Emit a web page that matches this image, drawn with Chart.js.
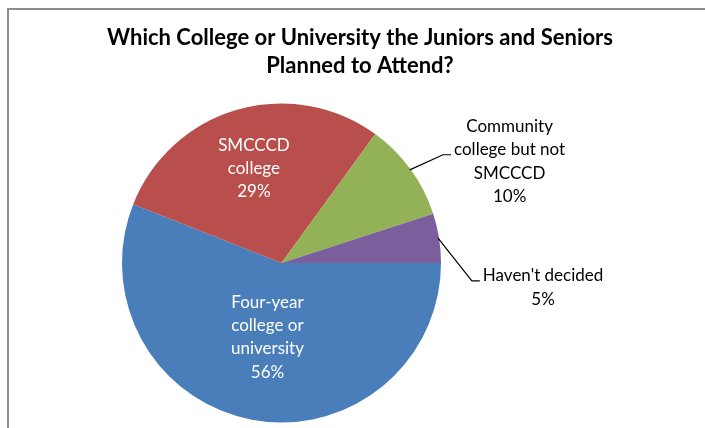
<!DOCTYPE html>
<html>
<head>
<meta charset="utf-8">
<title>College plans</title>
<script src="https://cdn.jsdelivr.net/npm/chart.js@4/dist/chart.umd.min.js"></script>
<style>
  html, body { margin: 0; padding: 0; background: #fff; }
  #plans { display: block; }
</style>
</head>
<body>
<canvas id="plans" width="705" height="428"></canvas>
<script>
// Survey answers, in drawing order (clockwise from 3 o'clock)
const categories = ['Four-year college or university', 'SMCCCD college', 'Community college but not SMCCCD', "Haven't decided"];
const shares = [56, 29, 10, 5];
// How each category name is broken over lines in its label
const labelLines = [
  ['Four-year', 'college or', 'university'],
  ['SMCCCD', 'college'],
  ['Community', 'college but not', 'SMCCCD'],
  ["Haven't decided"]
];
const titleLines = ['Which College or University the Juniors and Seniors', 'Planned to Attend?'];

const sliceColors = ['#4a7ebb', '#b84f4c', '#93b257', '#7b5e9c'];
const FONT = 'Lato, "Open Sans", sans-serif';

// where each label sits: inside = fraction of radius along mid angle,
// outside = text centre in radius units from the pie centre + leader row
const labelPlacement = [
  { inside: true, f: 0.47 },
  { inside: true, f: 0.62 },
  { inside: false, dx: 1.43, dy: -0.64, row: 1 },
  { inside: false, dx: 1.64, dy: 0.15, row: 0 }
];

const lineH = 23.3;
const capHalf = 6; // half the cap height of the 17px label font

const decorations = {
  id: 'decorations',
  afterDraw(chart) {
    const ctx = chart.ctx;
    ctx.save();

    // chart frame (runs off the right and bottom edges)
    ctx.strokeStyle = '#8c8c8c';
    ctx.lineWidth = 2;
    ctx.strokeRect(8, 9, 800, 500);

    // title
    ctx.fillStyle = '#000';
    ctx.font = 'bold 22px ' + FONT;
    ctx.textAlign = 'center';
    ctx.textBaseline = 'alphabetic';
    ctx.fillText(titleLines[0], 360, 45);
    ctx.fillText(titleLines[1], 360, 73);

    // slice labels
    ctx.font = '17px ' + FONT;
    const meta = chart.getDatasetMeta(0);
    meta.data.forEach((arc, i) => {
      const p = arc.getProps(['x', 'y', 'startAngle', 'endAngle', 'outerRadius'], true);
      const mid = (p.startAngle + p.endAngle) / 2;
      const r = p.outerRadius;
      const lines = labelLines[i].concat([shares[i] + '%']);
      const place = labelPlacement[i];
      let cx, cy;
      if (place.inside) {
        cx = p.x + Math.cos(mid) * r * place.f;
        cy = p.y + Math.sin(mid) * r * place.f;
        ctx.fillStyle = '#fff';
      } else {
        cx = p.x + place.dx * r;
        cy = p.y + place.dy * r;
        ctx.fillStyle = '#000';
      }
      const firstBase = cy - (lines.length - 1) * lineH / 2 + capHalf;
      lines.forEach((t, k) => ctx.fillText(t, cx, firstBase + k * lineH));

      if (!place.inside) {
        // leader line from the slice edge to the chosen label row
        const rowText = lines[place.row];
        const rowY = firstBase + place.row * lineH - 0.5;
        const endX = cx - ctx.measureText(rowText).width / 2 - 3;
        const elbowX = endX - 8;
        ctx.strokeStyle = '#000';
        ctx.lineWidth = 1.2;
        ctx.beginPath();
        ctx.moveTo(p.x + Math.cos(mid) * (r - 1), p.y + Math.sin(mid) * (r - 1));
        ctx.lineTo(elbowX, rowY);
        ctx.lineTo(endX, rowY);
        ctx.stroke();
      }
    });
    ctx.restore();
  }
};

new Chart(document.getElementById('plans'), {
  type: 'pie',
  data: {
    labels: categories,
    datasets: [{
      data: shares,
      backgroundColor: sliceColors,
      borderWidth: 0
    }]
  },
  options: {
    responsive: false,
    animation: false,
    rotation: 90,
    layout: { padding: { left: 122, right: 264, top: 103, bottom: 5 } },
    plugins: {
      legend: { display: false },
      tooltip: { enabled: false },
      title: { display: false }
    }
  },
  plugins: [decorations]
});
</script>
</body>
</html>
